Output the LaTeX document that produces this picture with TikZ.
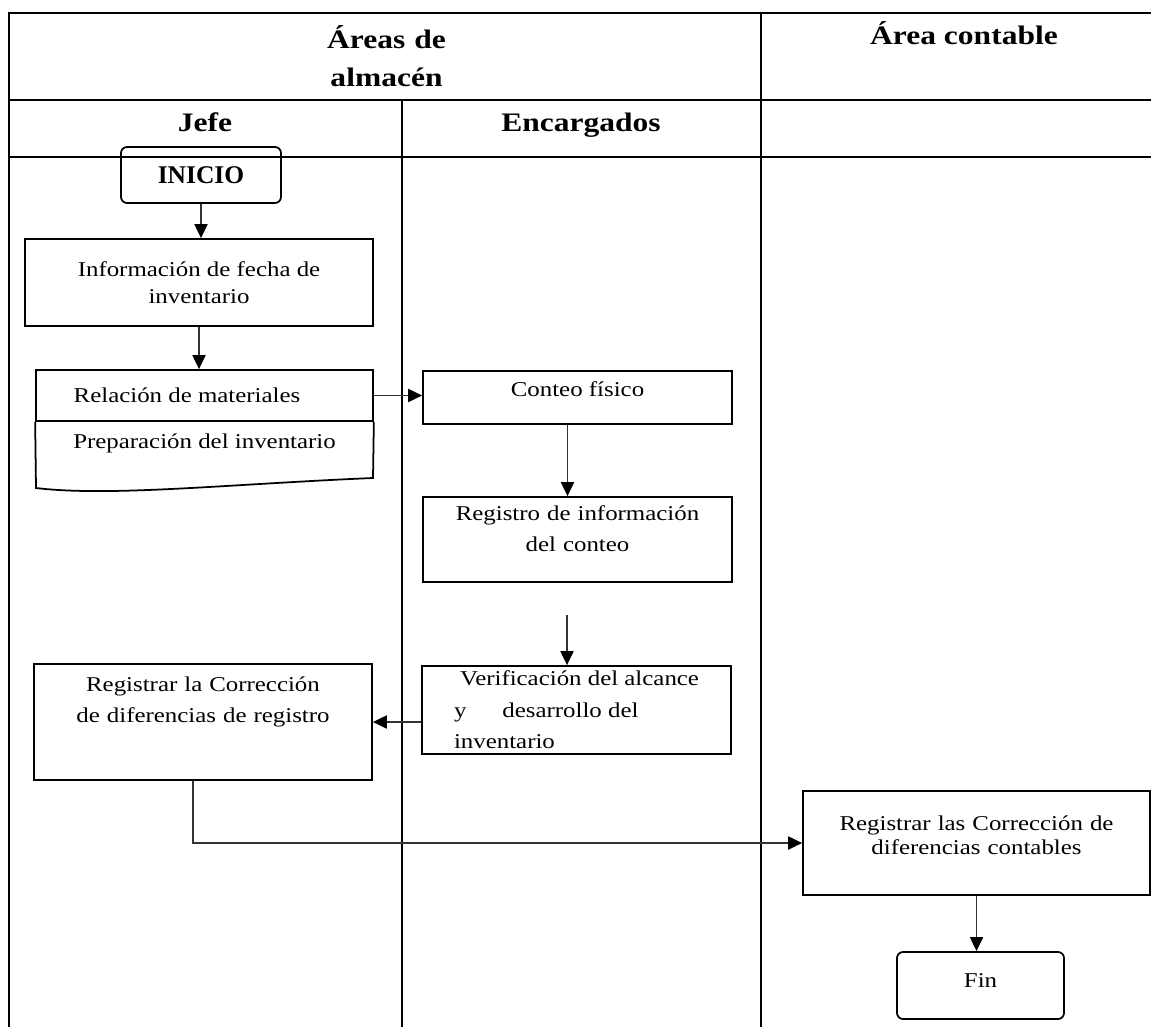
\documentclass[tikz,border=0pt]{standalone}
\usepackage{fontspec}
\setmainfont{Liberation Serif}[FakeStretch=1.18]
\newfontfamily\flatserif{Liberation Serif}
\usetikzlibrary{positioning,arrows.meta}

\begin{document}
\begin{tikzpicture} [
	x=0.02cm,y=-0.02cm,
	text centered,
	node distance=0.1cm,
	font=\fontsize{12pt}{17.5pt}\selectfont,
	lane/.style={
		line width=1.2pt,draw=black
	},
	nhead/.style={
		font=\fontsize{15.2pt}{21.6pt}\selectfont\bfseries,align=center
	},
	nstep/.style={
		rectangle,draw=black,line width=1pt,inner sep=0pt,align=center
	},
	nterm/.style={
		rectangle,rounded corners=0.12cm,draw=black,line width=1pt
	},
	flow/.style={
		line width=1.1pt,draw=black!80,
		-{Triangle[length=0.28cm,width=0.26cm,color=black]}
	}
]
\useasboundingbox (0,0) rectangle (1151,1027);
% swimlanes
\draw [lane] (1151,13) -- (9,13) -- (9,1027);
\draw [lane] (9,100) -- (1151,100);
\draw [lane] (9,157) -- (1151,157);
\draw [lane] (402,100) -- (402,1027);
\draw [lane] (761,13) -- (761,1027);
\node [nhead,anchor=base,text width=5cm]	(almacen)	at (386.5,49)	{Áreas de\\almacén};
\node [nhead,anchor=base]	(contab)	at (964,45)		{Área contable};
\node [nhead,anchor=base]	(jefe)		at (205,132)	{Jefe};
\node [nhead,anchor=base]	(encarg)	at (581,132)	{Encargados};
% steps
\node [nterm,font=\flatserif\fontsize{14.5pt}{17pt}\selectfont\bfseries,
	minimum width=3.2cm,minimum height=1.12cm]	(inicio)	at (201,175)	{INICIO};
\node [nstep,minimum width=6.96cm,minimum height=1.74cm,
	font=\fontsize{12pt}{15.5pt}\selectfont]	(info)		at (199,282.5)	{Información de fecha de\\inventario};
\node [nstep,minimum width=6.74cm,minimum height=1.02cm]	(relacion)	at (204.5,395.5)	{\hspace*{-0.7cm}Relación de materiales};
\node						(preparacion)	[below=0.12cm of relacion]	{Preparación del inventario};
\draw [line width=1pt] (relacion.south west) -- (36,488)
	.. controls (110,497) and (230,484) .. (373,478) -- (relacion.south east);
\node [nstep,minimum width=6.18cm,minimum height=1.06cm,
	text depth=0.34cm]	(conteo)	at (577.5,397.5)	{Conteo físico};
\node [nstep,minimum width=6.18cm,minimum height=1.7cm,
	text width=5.9cm,text depth=30pt]	(registro)	at (577.5,539.5)	{Registro de información\\del conteo};
\node [nstep,minimum width=6.18cm,minimum height=1.76cm,align=left,
	font=\fontsize{12pt}{18pt}\selectfont]	(verif)		at (576.5,710)	{\hspace*{0.12cm}Verificación del alcance\\y\hspace{0.72cm}desarrollo del\\inventario};
\node [nstep,minimum width=6.76cm,minimum height=2.32cm,
	text width=6.5cm,text depth=43pt]	(corr)		at (203,722)	{Registrar la Corrección\\de diferencias de registro};
\node [nstep,minimum width=6.94cm,minimum height=2.08cm,
	text width=6.7cm,text depth=23pt,
	font=\fontsize{12pt}{14pt}\selectfont]	(contable)	at (976.5,843)	{Registrar las Corrección de\\diferencias contables};
\node [nterm,minimum width=3.34cm,minimum height=1.34cm,
	text depth=0.2cm]	(fin)		at (980.5,985.5)	{Fin};
% flow
\coordinate (gap) at (567,615);
\draw [flow] (inicio.south) -- (inicio.south |- info.north);
\draw [flow] (info.south) -- (info.south |- relacion.north);
\draw [flow] (relacion.east) -- (relacion.east -| conteo.west);
\draw [flow] ([xshift=-0.2cm]conteo.south) -- ([xshift=-0.2cm]conteo.south |- registro.north);
\draw [flow] (gap) -- (gap |- verif.north);
\draw [flow] (verif.west |- corr.east) -- (corr.east);
\draw [flow] ([xshift=-0.2cm]corr.south) |- (contable.west);
\draw [flow] (contable.south) -- (contable.south |- fin.north);
\end{tikzpicture}
\end{document}
